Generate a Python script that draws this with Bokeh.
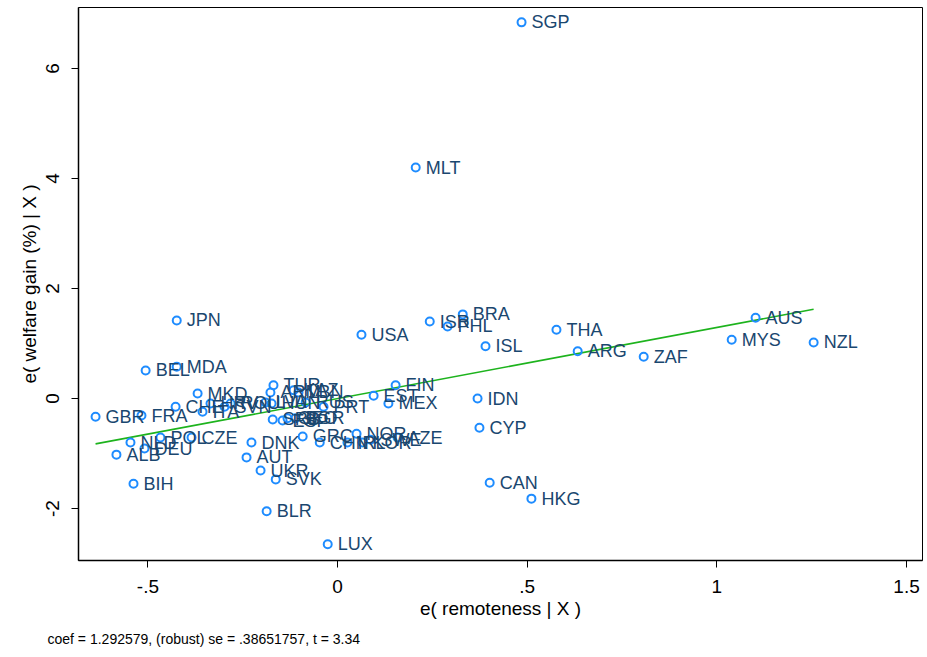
from bokeh.plotting import figure
from bokeh.models import Range1d, FixedTicker, ColumnDataSource, Title
from bokeh.embed import file_html
from bokeh.resources import INLINE
from bokeh.core.properties import value

# ---- data ----
countries = ["SGP", "MLT", "JPN", "BRA", "ISR", "PHL", "USA", "ISL", "THA", "ARG",
             "ZAF", "AUS", "MYS", "NZL", "BEL", "MDA", "MKD", "GBR", "FRA", "CHE",
             "NLD", "DEU", "ALB", "POL", "CZE", "BIH", "ITA", "HRV", "SVN", "ROU",
             "LVA", "HUN", "ARM", "TUR", "KAZ", "LBN", "RUS", "PRT", "SRB", "ESP",
             "GEO", "BGR", "GRC", "CHN", "IRL", "NOR", "KOR", "SWE", "AZE", "EST",
             "FIN", "MEX", "IDN", "CYP", "CAN", "HKG", "DNK", "AUT", "UKR", "SVK",
             "BLR", "LUX"]
remoteness = [0.485, 0.206, -0.424, 0.330, 0.243, 0.290, 0.063, 0.390, 0.577, 0.633,
              0.807, 1.102, 1.039, 1.255, -0.506, -0.424, -0.369, -0.638, -0.517, -0.427,
              -0.546, -0.509, -0.583, -0.467, -0.385, -0.538, -0.356, -0.335, -0.298, -0.282,
              -0.190, -0.174, -0.177, -0.169, -0.116, -0.103, -0.084, -0.037, -0.171, -0.145,
              -0.132, -0.111, -0.092, -0.047, 0.026, 0.050, 0.066, 0.087, 0.158, 0.095,
              0.153, 0.134, 0.369, 0.374, 0.401, 0.511, -0.227, -0.240, -0.203, -0.163,
              -0.187, -0.026]
welfare_gain = [6.84, 4.20, 1.42, 1.53, 1.40, 1.31, 1.16, 0.95, 1.25, 0.86,
                0.76, 1.47, 1.07, 1.02, 0.51, 0.58, 0.09, -0.33, -0.31, -0.15,
                -0.80, -0.91, -1.02, -0.71, -0.71, -1.55, -0.24, -0.09, -0.15, -0.09,
                -0.07, -0.09, 0.11, 0.24, 0.15, 0.11, -0.07, -0.15, -0.38, -0.40,
                -0.36, -0.36, -0.69, -0.80, -0.80, -0.64, -0.80, -0.75, -0.71, 0.05,
                0.24, -0.09, 0.00, -0.53, -1.53, -1.82, -0.80, -1.07, -1.31, -1.47,
                -2.05, -2.65]
coef = 1.292579
note_text = "coef = 1.292579, (robust) se = .38651757, t = 3.34"
x_ticks = [-0.5, 0, 0.5, 1, 1.5]
x_tick_labels = ["-.5", "0", ".5", "1", "1.5"]
y_ticks = [-2, 0, 2, 4, 6]
y_tick_labels = ["-2", "0", "2", "4", "6"]
x_title = "e( remoteness | X )"
y_title = "e( welfare gain (%) | X )"

src = ColumnDataSource(dict(x=remoteness, y=welfare_gain, name=countries))
fit_x = [min(remoteness), max(remoteness)]
fit_y = [coef * v for v in fit_x]

AX_FONT = "Liberation Sans"
LAB_FONT = "Liberation Sans"

p = figure(width=924, height=655, output_backend="svg", toolbar_location=None,
           x_range=Range1d(-0.683, 1.542), y_range=Range1d(-2.945, 7.11),
           min_border_left=78, min_border_right=2, min_border_top=7,
           min_border_bottom=95)
p.background_fill_color = "white"
p.border_fill_color = "white"
p.outline_line_color = "black"
p.outline_line_width = 1
p.grid.visible = False

p.line(fit_x, fit_y, line_color="#1db31d", line_width=1.6)
p.scatter("x", "y", source=src, marker="circle", size=8, fill_alpha=0,
          line_color="#1e8cff", line_width=2)
p.text("x", "y", text="name", source=src, x_offset=10, text_baseline="middle",
       text_align="left", text_font=value(LAB_FONT), text_font_size="18px",
       text_color="#1a476f")

p.xaxis.ticker = FixedTicker(ticks=x_ticks)
p.xaxis.major_label_overrides = {t: l for t, l in zip(x_ticks, x_tick_labels)}
p.yaxis.ticker = FixedTicker(ticks=y_ticks)
p.yaxis.major_label_overrides = {t: l for t, l in zip(y_ticks, y_tick_labels)}
p.yaxis.major_label_orientation = "vertical"

for ax in (p.xaxis, p.yaxis):
    ax.axis_line_color = "black"
    ax.axis_line_width = 1.5
    ax.major_tick_line_color = "black"
    ax.major_tick_out = 7
    ax.major_tick_in = 0
    ax.minor_tick_line_color = None
    ax.major_label_text_font = AX_FONT
    ax.major_label_text_font_size = "19px"
    ax.major_label_text_color = "black"
    ax.axis_label_text_font = AX_FONT
    ax.axis_label_text_font_size = "19px"
    ax.axis_label_text_font_style = "normal"
    ax.axis_label_text_color = "black"

p.xaxis.axis_label = x_title
p.yaxis.axis_label = y_title
p.xaxis.major_label_standoff = 12
p.xaxis.axis_label_standoff = 2
p.yaxis.major_label_standoff = 12
p.yaxis.axis_label_standoff = 4

p.add_layout(Title(text=note_text, align="left", text_font=AX_FONT,
                   text_font_size="14px", text_font_style="normal",
                   text_color="black", offset=-31, standoff=14), "below")

open("out.html", "w").write(file_html(p, INLINE))
